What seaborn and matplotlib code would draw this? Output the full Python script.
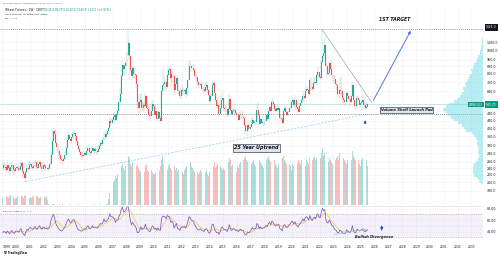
import numpy as np
import pandas as pd
import matplotlib
matplotlib.use("Agg")
import matplotlib.pyplot as plt
import seaborn as sns

sns.set_theme(style="white")
plt.rcParams['font.family'] = ['DejaVu Sans']

# ---- monthly data (Jan 1999 .. Jun 2025), cents/bu ----
close_px = [
    250, 240, 245, 235, 250, 240, 230, 245, 250, 235, 230, 240,
    245, 240, 235, 248, 255, 230, 222, 212, 228, 240, 236, 250,
    252, 245, 240, 248, 258, 245, 240, 252, 258, 245, 238, 250,
    248, 240, 242, 236, 240, 252, 285, 340, 385, 370, 330, 315,
    300, 285, 270, 265, 262, 270, 285, 310, 345, 365, 350, 340,
    355, 370, 378, 360, 340, 320, 305, 295, 285, 280, 285, 290,
    285, 300, 310, 295, 290, 300, 312, 298, 305, 300, 295, 308,
    318, 330, 328, 345, 372, 355, 370, 385, 400, 440, 425, 445,
    460, 470, 445, 480, 500, 560, 620, 780, 900, 850, 880, 920,
    1020, 1180, 1000, 840, 780, 860, 800, 790, 700, 560, 520, 560,
    570, 520, 540, 530, 600, 515, 510, 475, 465, 500, 545, 530,
    475, 495, 450, 490, 455, 440, 640, 690, 700, 720, 680, 790,
    840, 850, 760, 800, 780, 650, 700, 760, 640, 640, 600, 650,
    640, 640, 650, 620, 670, 740, 880, 880, 860, 860, 840, 780,
    770, 720, 690, 690, 700, 660, 660, 640, 680, 690, 650, 610,
    565, 605, 695, 710, 625, 570, 530, 540, 480, 520, 570, 590,
    520, 510, 510, 475, 510, 580, 505, 480, 500, 505, 485, 470,
    470, 445, 470, 475, 460, 455, 415, 385, 385, 415, 395, 405,
    420, 445, 425, 430, 430, 505, 470, 420, 450, 425, 430, 430,
    440, 470, 450, 500, 525, 495, 560, 545, 510, 500, 515, 505,
    515, 455, 450, 425, 495, 515, 490, 470, 490, 515, 520, 555,
    570, 535, 570, 525, 510, 490, 530, 550, 575, 605, 590, 640,
    660, 650, 620, 740, 680, 660, 710, 725, 710, 785, 820, 770,
    760, 930, 1010, 1040, 1160, 880, 800, 810, 920, 850, 790, 790,
    745, 700, 690, 620, 615, 650, 645, 590, 570, 560, 560, 630,
    600, 580, 560, 600, 690, 570, 530, 530, 590, 570, 540, 550,
    560, 570, 535, 520, 525, 545,
]
high_px = [
    265, 255, 255, 250, 260, 255, 245, 255, 262, 250, 245, 252,
    255, 250, 248, 258, 268, 258, 235, 228, 235, 252, 248, 260,
    262, 258, 250, 258, 268, 260, 250, 262, 268, 260, 250, 258,
    258, 252, 250, 246, 250, 262, 295, 350, 400, 395, 372, 335,
    318, 302, 290, 280, 275, 282, 295, 320, 355, 380, 372, 355,
    370, 382, 392, 385, 362, 340, 322, 310, 300, 292, 298, 300,
    298, 312, 325, 312, 300, 312, 322, 315, 315, 312, 305, 318,
    328, 342, 340, 355, 385, 378, 382, 395, 412, 460, 450, 455,
    480, 485, 470, 500, 520, 590, 660, 800, 950, 920, 900, 950,
    1050, 1400, 1250, 1000, 880, 900, 880, 860, 800, 700, 600, 620,
    620, 580, 560, 560, 630, 610, 550, 530, 490, 530, 570, 575,
    540, 520, 500, 510, 500, 470, 650, 860, 780, 750, 740, 800,
    880, 900, 860, 820, 850, 790, 720, 790, 780, 680, 660, 660,
    690, 680, 670, 670, 680, 740, 950, 940, 910, 900, 890, 850,
    790, 780, 730, 720, 740, 720, 680, 680, 710, 720, 700, 660,
    600, 620, 720, 740, 730, 630, 570, 560, 550, 530, 600, 650,
    590, 540, 540, 520, 520, 620, 600, 510, 520, 530, 510, 490,
    490, 470, 485, 505, 490, 505, 460, 430, 410, 430, 420, 420,
    440, 465, 455, 445, 445, 540, 555, 480, 460, 450, 450, 440,
    450, 485, 475, 510, 530, 530, 570, 590, 550, 530, 530, 540,
    530, 520, 470, 460, 510, 540, 525, 500, 500, 520, 525, 565,
    590, 580, 610, 580, 530, 520, 550, 560, 580, 640, 620, 645,
    690, 680, 670, 750, 770, 700, 730, 780, 730, 790, 870, 820,
    800, 960, 1425, 1120, 1280, 1130, 900, 850, 930, 960, 870, 800,
    790, 790, 730, 700, 640, 760, 780, 650, 600, 590, 590, 650,
    630, 610, 580, 610, 720, 700, 580, 550, 600, 610, 580, 560,
    570, 620, 570, 555, 550, 560,
]
low_px = [
    235, 230, 232, 225, 232, 225, 220, 228, 238, 225, 220, 228,
    235, 230, 225, 230, 240, 225, 212, 205, 210, 226, 228, 232,
    240, 236, 232, 236, 245, 236, 230, 238, 245, 236, 228, 236,
    238, 232, 234, 228, 230, 238, 250, 285, 335, 345, 325, 300,
    290, 278, 262, 252, 250, 258, 265, 285, 305, 340, 335, 325,
    335, 350, 360, 345, 330, 310, 295, 285, 272, 268, 272, 278,
    275, 282, 295, 285, 280, 285, 295, 288, 292, 288, 285, 292,
    305, 315, 318, 325, 340, 345, 350, 365, 385, 395, 410, 425,
    440, 455, 420, 440, 470, 500, 560, 600, 780, 800, 780, 860,
    880, 1000, 950, 790, 740, 760, 760, 750, 680, 520, 480, 480,
    530, 500, 490, 500, 520, 500, 480, 460, 440, 450, 490, 510,
    470, 460, 440, 450, 450, 425, 440, 620, 640, 660, 640, 660,
    780, 770, 680, 720, 720, 620, 610, 680, 620, 600, 580, 580,
    600, 620, 610, 590, 600, 600, 740, 850, 820, 830, 820, 770,
    740, 700, 680, 660, 680, 640, 640, 630, 630, 660, 630, 600,
    550, 550, 600, 680, 620, 560, 520, 510, 460, 470, 510, 560,
    500, 490, 490, 460, 460, 490, 500, 470, 470, 490, 470, 460,
    455, 440, 450, 460, 450, 450, 410, 370, 360, 380, 390, 395,
    410, 420, 420, 410, 415, 430, 460, 410, 420, 420, 410, 410,
    415, 440, 440, 450, 490, 480, 490, 530, 500, 490, 490, 500,
    505, 450, 440, 420, 420, 500, 490, 460, 465, 490, 510, 520,
    550, 525, 500, 510, 500, 470, 490, 500, 540, 560, 560, 580,
    630, 640, 610, 620, 660, 640, 640, 690, 690, 710, 760, 750,
    740, 750, 950, 980, 1010, 860, 760, 780, 790, 830, 770, 720,
    720, 700, 660, 610, 585, 590, 610, 570, 540, 550, 530, 560,
    580, 560, 525, 550, 590, 560, 520, 495, 520, 560, 530, 520,
    535, 550, 520, 510, 505, 510,
]
volume_k = [
    18, 20, 15, 22, 19, 16, 21, 24, 17, 19, 15, 14,
    17, 21, 19, 16, 23, 20, 18, 22, 24, 16, 15, 18,
    20, 16, 22, 19, 17, 21, 23, 18, 16, 20, 19, 14,
    16, 19, 21, 12, 2, 2, 2, 2, 2, 2, 1, 1,
    1, 2, 1, 1, 2, 1, 1, 2, 1, 1, 2, 1,
    1, 1, 2, 1, 1, 1, 2, 1, 1, 1, 1, 1,
    1, 1, 1, 2, 1, 1, 1, 1, 2, 1, 1, 1,
    1, 2, 1, 1, 2, 1, 2, 3, 15, 30, 40, 45,
    55, 60, 70, 65, 75, 80, 90, 95, 100, 90, 85, 95,
    110, 120, 115, 100, 95, 105, 110, 100, 95, 100, 90, 85,
    80, 85, 90, 80, 95, 100, 85, 80, 90, 85, 80, 75,
    75, 80, 85, 90, 85, 95, 110, 120, 100, 95, 90, 85,
    95, 100, 90, 85, 80, 95, 85, 90, 80, 85, 75, 70,
    80, 75, 85, 90, 95, 110, 120, 105, 95, 90, 85, 80,
    85, 80, 75, 80, 85, 80, 90, 85, 80, 85, 75, 70,
    80, 85, 100, 95, 105, 90, 95, 100, 110, 95, 90, 85,
    90, 85, 95, 100, 105, 115, 110, 95, 100, 90, 85, 80,
    95, 90, 100, 105, 100, 110, 115, 120, 110, 105, 95, 90,
    100, 105, 110, 100, 95, 120, 125, 110, 105, 100, 95, 90,
    105, 110, 115, 120, 110, 105, 125, 120, 110, 100, 95, 90,
    100, 105, 110, 115, 120, 110, 105, 100, 95, 100, 95, 85,
    100, 95, 115, 105, 100, 110, 105, 100, 110, 120, 105, 95,
    110, 105, 100, 115, 120, 110, 115, 120, 110, 115, 125, 110,
    115, 125, 135, 120, 125, 115, 110, 105, 115, 110, 105, 100,
    105, 110, 115, 120, 110, 125, 120, 110, 115, 110, 105, 100,
    110, 115, 120, 110, 130, 120, 115, 110, 105, 110, 100, 95,
    110, 115, 105, 100, 110, 95,
]
rsi_vals = [
    38, 40, 39, 37, 41, 39, 36, 40, 42, 38, 37, 40,
    41, 40, 39, 43, 45, 38, 36, 33, 39, 44, 42, 46,
    47, 45, 44, 46, 49, 45, 44, 48, 50, 46, 44, 48,
    47, 45, 46, 44, 46, 50, 60, 66, 70, 64, 55, 50,
    47, 44, 42, 41, 42, 45, 48, 53, 58, 62, 58, 55,
    57, 60, 61, 56, 50, 45, 43, 42, 41, 41, 43, 45,
    44, 48, 50, 46, 45, 47, 50, 47, 48, 47, 46, 49,
    51, 54, 53, 56, 62, 57, 58, 60, 63, 71, 66, 66,
    64, 62, 56, 60, 60, 66, 70, 78, 83, 74, 75, 78,
    82, 85, 72, 58, 52, 56, 52, 50, 46, 38, 38, 42,
    48, 44, 46, 46, 53, 45, 44, 41, 40, 45, 50, 48,
    44, 46, 42, 46, 43, 42, 62, 67, 66, 66, 62, 68,
    66, 66, 56, 58, 56, 46, 50, 54, 45, 45, 42, 47,
    48, 48, 49, 46, 51, 57, 66, 64, 60, 59, 56, 51,
    48, 45, 43, 43, 45, 42, 42, 40, 44, 45, 42, 38,
    37, 42, 52, 53, 45, 41, 38, 39, 35, 40, 46, 48,
    44, 43, 43, 40, 44, 52, 45, 42, 44, 45, 43, 41,
    42, 40, 43, 44, 42, 42, 37, 34, 35, 39, 38, 40,
    43, 47, 44, 45, 45, 54, 52, 45, 48, 45, 46, 46,
    48, 51, 49, 54, 56, 52, 58, 56, 52, 50, 52, 51,
    52, 45, 44, 41, 50, 52, 49, 47, 49, 52, 53, 57,
    58, 53, 57, 52, 50, 48, 53, 55, 58, 62, 58, 64,
    66, 64, 60, 68, 62, 59, 63, 65, 62, 68, 71, 65,
    64, 74, 81, 76, 78, 60, 55, 56, 60, 56, 51, 50,
    46, 43, 42, 38, 38, 42, 42, 38, 37, 36, 37, 43,
    41, 39, 38, 42, 50, 41, 38, 38, 44, 43, 41, 42,
    43, 45, 41, 40, 41, 44,
]
rsi_ma = [
    40, 40, 40, 39, 39, 39, 39, 39, 39, 39, 39, 39,
    39, 39, 40, 40, 40, 40, 40, 39, 39, 39, 40, 40,
    41, 42, 43, 44, 44, 45, 45, 46, 46, 46, 46, 46,
    46, 46, 46, 46, 46, 46, 47, 50, 53, 56, 58, 58,
    57, 55, 53, 50, 48, 47, 46, 47, 48, 50, 52, 54,
    55, 56, 57, 58, 57, 56, 54, 51, 48, 45, 44, 43,
    43, 44, 45, 46, 46, 46, 47, 47, 47, 47, 47, 47,
    48, 49, 50, 51, 53, 54, 55, 56, 57, 59, 61, 62,
    63, 63, 63, 62, 61, 61, 62, 64, 67, 70, 72, 74,
    76, 78, 78, 76, 72, 68, 64, 60, 56, 52, 48, 45,
    44, 44, 44, 44, 45, 46, 46, 46, 45, 44, 44, 45,
    45, 45, 45, 45, 44, 44, 46, 49, 53, 56, 59, 62,
    63, 64, 64, 62, 60, 58, 56, 54, 53, 51, 49, 48,
    47, 47, 47, 47, 48, 49, 52, 55, 57, 59, 59, 58,
    56, 54, 52, 49, 47, 46, 45, 44, 43, 43, 43, 42,
    41, 41, 42, 43, 44, 44, 44, 43, 42, 41, 41, 42,
    43, 44, 44, 44, 44, 45, 45, 45, 45, 45, 44, 44,
    43, 43, 42, 42, 42, 42, 41, 40, 39, 39, 38, 38,
    39, 40, 41, 42, 43, 44, 46, 47, 47, 47, 47, 47,
    47, 48, 48, 49, 50, 51, 52, 53, 53, 53, 53, 52,
    52, 51, 50, 49, 48, 48, 48, 48, 48, 49, 50, 51,
    52, 53, 54, 54, 54, 53, 53, 53, 54, 55, 56, 57,
    59, 60, 61, 62, 62, 62, 62, 63, 63, 64, 65, 66,
    66, 67, 69, 71, 72, 72, 70, 67, 63, 60, 57, 55,
    53, 51, 48, 46, 44, 42, 41, 40, 40, 39, 39, 39,
    40, 40, 40, 40, 41, 42, 42, 42, 42, 42, 42, 42,
    42, 42, 42, 42, 42, 42,
]

profile_vals = [2, 4, 6, 9, 10, 11, 10, 9, 7, 5, 4, 4, 5, 4, 5, 6, 5, 7, 9, 12,
                18, 20, 22, 26, 30, 34, 38, 40, 42, 39, 36, 30, 27, 24, 22, 20,
                21, 18, 19, 17, 15, 14, 12, 13, 10, 9, 7, 6, 5, 3, 3, 2, 2, 1, 1, 1]

price_ticks = [1200, 1080, 960, 880, 800, 720, 640, 480, 440, 400, 360, 320, 290, 260, 240, 220, 200, 180]
year_ticks = list(range(1999, 2034))
rsi_ticks = [80, 60, 40]

ATH = 1425
SHELF = 478
LAST = 545.75

dates = pd.date_range("1999-01-01", periods=len(close_px), freq="MS")
df = pd.DataFrame({"date": dates, "close": close_px, "high": high_px, "low": low_px,
                   "vol": volume_k, "rsi": rsi_vals, "rsi_ma": rsi_ma})
df["t"] = df["date"].dt.year + (df["date"].dt.month - 0.5) / 12
df["open"] = df["close"].shift(1).fillna(df["close"].iloc[0])
df["up"] = df["close"] >= df["open"]
df["high"] = np.maximum(df["high"], df[["open", "close"]].max(axis=1))
df["low"] = np.minimum(df["low"], df[["open", "close"]].min(axis=1))

UP, DOWN = "#26a69a", "#ef5350"
colors = np.where(df["up"], UP, DOWN)

W, H = 500, 258
fx = lambda x: x / W
fy = lambda y: 1 - y / H
XLIM = (1998.84, 2033.84)

fig = plt.figure(figsize=(5, 2.58), dpi=100, facecolor="white")

# ── price pane ──
ax = fig.add_axes([0, fy(205), 483 / W, (205 - 7) / H])
ax.set_yscale("log")
ax.set_xlim(*XLIM)
ax.set_ylim(150, 1876)

axv = ax.twinx()
axv.bar(df["t"], df["vol"], width=0.055, color=colors, alpha=0.38, linewidth=0)
axv.set_ylim(0, 480)
axv.axis("off")

ax.vlines(df["t"], df["low"], df["high"], colors=colors, lw=0.35, alpha=0.45, zorder=3)
body_lo = df[["open", "close"]].min(axis=1)
body_h = (df["close"] - df["open"]).abs().clip(lower=1)
ax.bar(df["t"], body_h, bottom=body_lo, width=0.07, color=colors, linewidth=0, zorder=4)

# volume profile from the right edge
axp = ax.twiny()
edges = np.geomspace(195, 1280, len(profile_vals) + 1)
axp.barh(edges[:-1], profile_vals, height=np.diff(edges), align="edge",
         color="#5fd6e3", alpha=0.45, linewidth=0)
axp.set_xlim(507, 0)
axp.axis("off")

ax.set_yticks(price_ticks)
ax.set_yticklabels([f"{p:.1f}" for p in price_ticks])
ax.yaxis.set_minor_locator(matplotlib.ticker.NullLocator())
ax.yaxis.tick_right()
ax.set_xticks(year_ticks)
ax.set_xticklabels([])
ax.tick_params(axis="y", length=0, labelsize=2.3, pad=3, colors="#131722")
ax.tick_params(axis="x", length=0)
ax.grid(True, color="#f0f3fa", lw=0.4)
for s in ax.spines.values():
    s.set_visible(False)

dot = (0, (1, 1.5))
ax.axhline(ATH, color="#787b86", lw=0.6, ls=dot, zorder=5)
ax.axhline(SHELF, color="#787b86", lw=0.6, ls=dot, zorder=5)
ax.axhline(LAST, color="#b2dfdb", lw=0.5, zorder=2)

# 25 year uptrend, wedge and target
ax.plot([2000.65, 2025.45], [202, 478], color="#90caf9", lw=0.5, ls=(0, (3, 2)), zorder=5)
ax.plot([2022.2, 2025.8], [1400, 552], color="#9598a1", lw=0.45, zorder=5)
ax.annotate("", xy=(2028.7, 1430), xytext=(2025.8, 552),
            arrowprops=dict(arrowstyle="-|>", color="#5472e8", lw=0.7, mutation_scale=4), zorder=6)
ax.annotate("", xy=(2025.3, 458), xytext=(2025.3, 415),
            arrowprops=dict(arrowstyle="-|>", color="#1e4fd8", lw=0.8, mutation_scale=3), zorder=6)
ax.text(2027.45, 1606, "1ST TARGET", fontsize=3.3, fontstyle="italic", fontweight="bold",
        color="#131722", ha="center", va="center")
box = dict(boxstyle="square,pad=0.25", fc="#dfe3ec", ec="#131722", lw=0.4)
ax.text(2017.4, 311, "25 Year Uptrend", fontsize=3.5, fontstyle="italic", fontweight="bold",
        color="#131722", ha="center", va="center", bbox=box, zorder=7)
ax.text(2028.3, 505, "Volume Shelf Launch Pad", fontsize=2.6, fontstyle="italic", fontweight="bold",
        color="#131722", ha="center", va="center", bbox=box, zorder=7)

# ── RSI pane ──
axr = fig.add_axes([0, fy(241), 483 / W, 35 / H])
axr.set_xlim(*XLIM)
axr.set_ylim(23.6, 84.4)
axr.axhspan(30, 70, color="#7e57c2", alpha=0.08, lw=0)
axr.axhline(70, color="#9598a1", lw=0.4, ls=(0, (2, 2)))
axr.axhline(30, color="#9598a1", lw=0.4, ls=(0, (2, 2)))
axr.axhline(50, color="#9598a1", lw=0.3, ls=(0, (1, 2)), alpha=0.6)
sns.lineplot(data=df, x="t", y="rsi_ma", ax=axr, color="#f7c948", lw=0.55)
sns.lineplot(data=df, x="t", y="rsi", ax=axr, color="#7e57c2", lw=0.55)
axr.plot([2023.1, 2025.4], [35, 44], color="#90caf9", lw=0.5)
axr.annotate("", xy=(2026.5, 56), xytext=(2026.5, 38),
             arrowprops=dict(arrowstyle="-|>", color="#1e4fd8", lw=0.9, mutation_scale=3))
axr.text(2025.95, 30.5, "Bullish Divergence", fontsize=2.6, fontstyle="italic", fontweight="bold",
         color="#131722", ha="center", va="center")
axr.set_xlabel("")
axr.set_ylabel("")
axr.set_xticks(year_ticks)
xl = axr.set_xticklabels([str(y) for y in year_ticks])
xl[0].set_horizontalalignment("left")
axr.set_yticks(rsi_ticks)
axr.set_yticklabels([f"{v:.2f}" for v in rsi_ticks])
axr.yaxis.tick_right()
axr.tick_params(axis="x", length=0, labelsize=2.2, pad=3, colors="#131722")
axr.tick_params(axis="y", length=0, labelsize=2.3, pad=3, colors="#131722")
axr.grid(True, color="#f0f3fa", lw=0.4)
for s in axr.spines.values():
    s.set_visible(False)
axr.spines["top"].set_visible(True)
axr.spines["top"].set_color("#e0e3eb")
axr.spines["top"].set_linewidth(0.5)

# ── header, legends and price scale labels ──
fig.text(fx(3), fy(3.5), "qalvo published on TradingView.com, Jun 18, 2025 13:48 UTC",
         fontsize=1.4, color="#50535e", va="center")
fig.text(fx(5), fy(10), "Wheat Futures · 1W · CBOT", fontsize=2.1, color="#131722", va="center")
fig.text(fx(44), fy(10), "O535'4 H575'0 L532'4 C545'6 +10'2 (+1.91%)", fontsize=2.1,
         color="#089981", va="center")
fig.text(fx(5), fy(14.2), "VRVP (Number Of Rows, 500, Total)", fontsize=1.7, color="#131722", va="center")
fig.text(fx(42), fy(14.2), "1.01K", fontsize=1.7, color="#00bcd4", va="center")
fig.text(fx(5), fy(18.4), "Vol", fontsize=1.7, color="#131722", va="center")
fig.text(fx(10), fy(18.4), "11.82K", fontsize=1.7, color="#00bcd4", va="center")
fig.text(fx(3), fy(211), "RSI (14, close)", fontsize=1.6, color="#131722", va="center")
fig.text(fx(20), fy(211), "43.73", fontsize=1.6, color="#7e57c2", va="center")
fig.text(fx(27), fy(211), "42.47", fontsize=1.6, color="#d4a017", va="center")

fig.text(fx(486), fy(27.5), "1425.0", fontsize=2.2, color="white", va="center",
         bbox=dict(boxstyle="square,pad=0.35", fc="#131722", ec="none"))
fig.text(fx(486), fy(104.5), f"{LAST:.2f}", fontsize=2.2, color="white", va="center",
         bbox=dict(boxstyle="square,pad=0.35", fc="#089981", ec="none"))
fig.text(fx(469), fy(104.5), "ZWN2025", fontsize=2.1, color="white", va="center",
         bbox=dict(boxstyle="square,pad=0.3", fc="#089981", ec="none"))
fig.text(fx(3), fy(253), "TV TradingView", fontsize=2.0, fontweight="bold", color="#131722", va="center")

fig.savefig("out.png", dpi=100, facecolor="white")
